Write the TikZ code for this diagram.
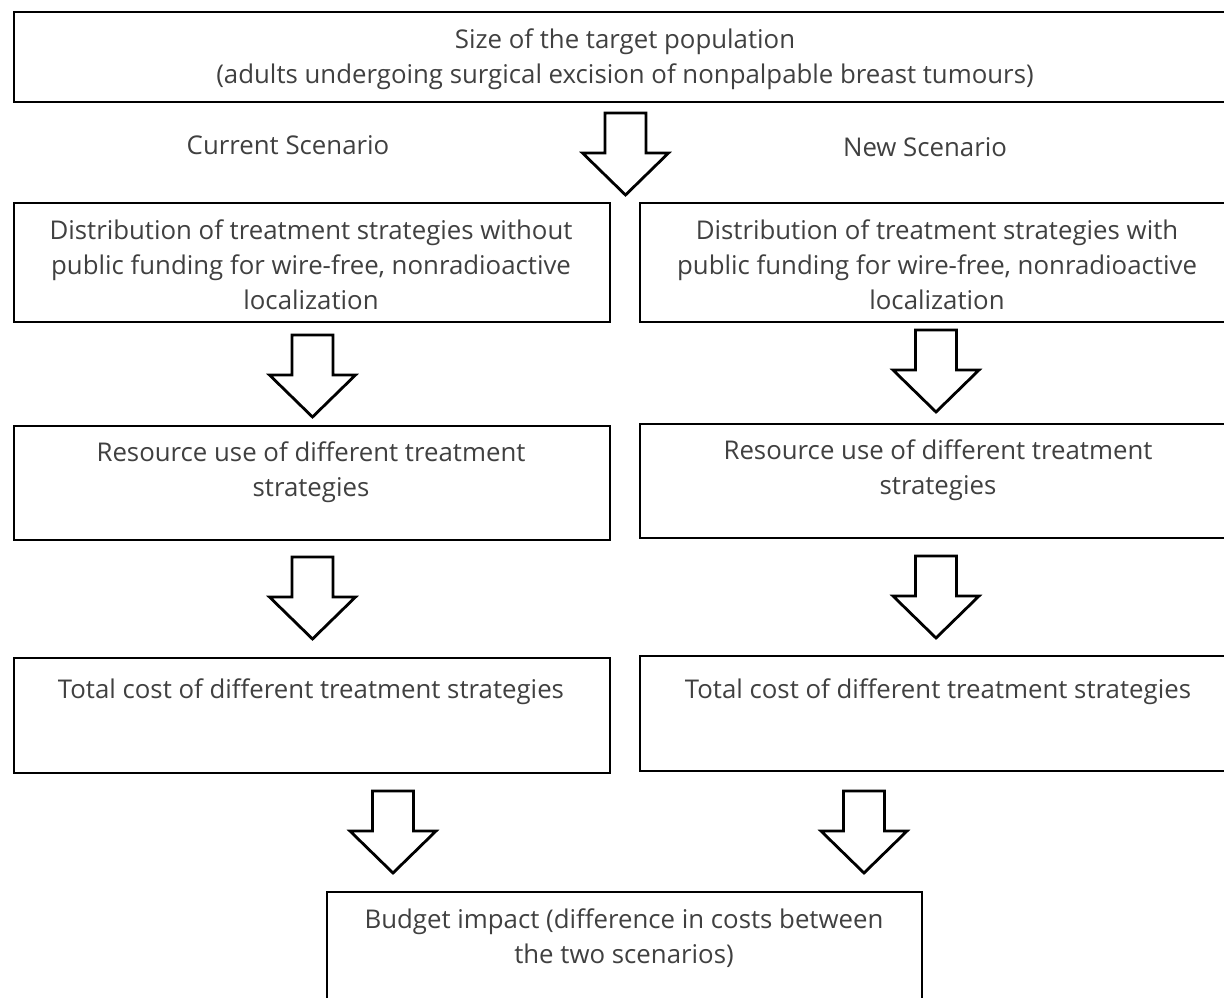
\documentclass[tikz,border=0pt]{standalone}
\usepackage{fontspec}
\setmainfont{Open Sans}
\begin{document}
\begin{tikzpicture}[x=1pt,y=-1pt,
  box/.style={draw=black, line width=2.6pt, fill=none},
  txt/.style={text=black!75, font=\fontsize{25.8}{35}\selectfont, align=center, inner sep=0pt},
  blockarrow/.pic={\draw[line width=2.8pt, line join=miter, fill=white]
      (-20.5,0) -- (-20.5,40) -- (-43,40) -- (0,82) -- (43,40) -- (20.5,40) -- (20.5,0) -- cycle;}
]
\useasboundingbox (0,0) rectangle (1224,997);
\clip (0,0) rectangle (1224,997);
\fill[white] (0,0) rectangle (1224,997);

% top box
\draw[box] (14,12) rectangle (1240,102);
\node[txt] (ttop1) at (625,42) {Size of the target population};
\node[txt] (ttop2) at (625,77) {(adults undergoing surgical excision of nonpalpable breast tumours)};
\coordinate (a0) at (625.5,113);
\pic at (a0) {blockarrow};

\node[txt] (cur) at (288,145) {Current Scenario};
\node[txt] (new) at (925,147) {New Scenario};

% row 2
\draw[box] (14,203) rectangle (610,322);
\draw[box] (640,203) rectangle (1240,322);
\node[txt] (l2) at (311,265) {Distribution of treatment strategies without\\public funding for wire-free, nonradioactive\\localization};
\node[txt] (r2) at (937,265) {Distribution of treatment strategies with\\public funding for wire-free, nonradioactive\\localization};
\coordinate (al2) at (312.5,335);
\coordinate (ar2) at (936,330);
\pic at (al2) {blockarrow};
\pic at (ar2) {blockarrow};

% row 3
\draw[box] (14,426) rectangle (610,540);
\draw[box] (640,424) rectangle (1240,538);
\node[txt] (l3) at (311,472) {Resource use of different treatment\\strategies};
\node[txt] (r3) at (938,470) {Resource use of different treatment\\strategies};
\coordinate (al3) at (312.5,557);
\coordinate (ar3) at (936,556);
\pic at (al3) {blockarrow};
\pic at (ar3) {blockarrow};

% row 4
\draw[box] (14,658) rectangle (610,773);
\draw[box] (640,656) rectangle (1240,771);
\node[txt] (l4) at (311,692) {Total cost of different treatment strategies};
\node[txt] (r4) at (938,692) {Total cost of different treatment strategies};
\coordinate (al4) at (393,791);
\coordinate (ar4) at (864,791);
\pic at (al4) {blockarrow};
\pic at (ar4) {blockarrow};

% bottom
\draw[box] (327,892) rectangle (922,1010);
\node[txt] (bot) at (624,938) {Budget impact (difference in costs between\\the two scenarios)};
\end{tikzpicture}
\end{document}
